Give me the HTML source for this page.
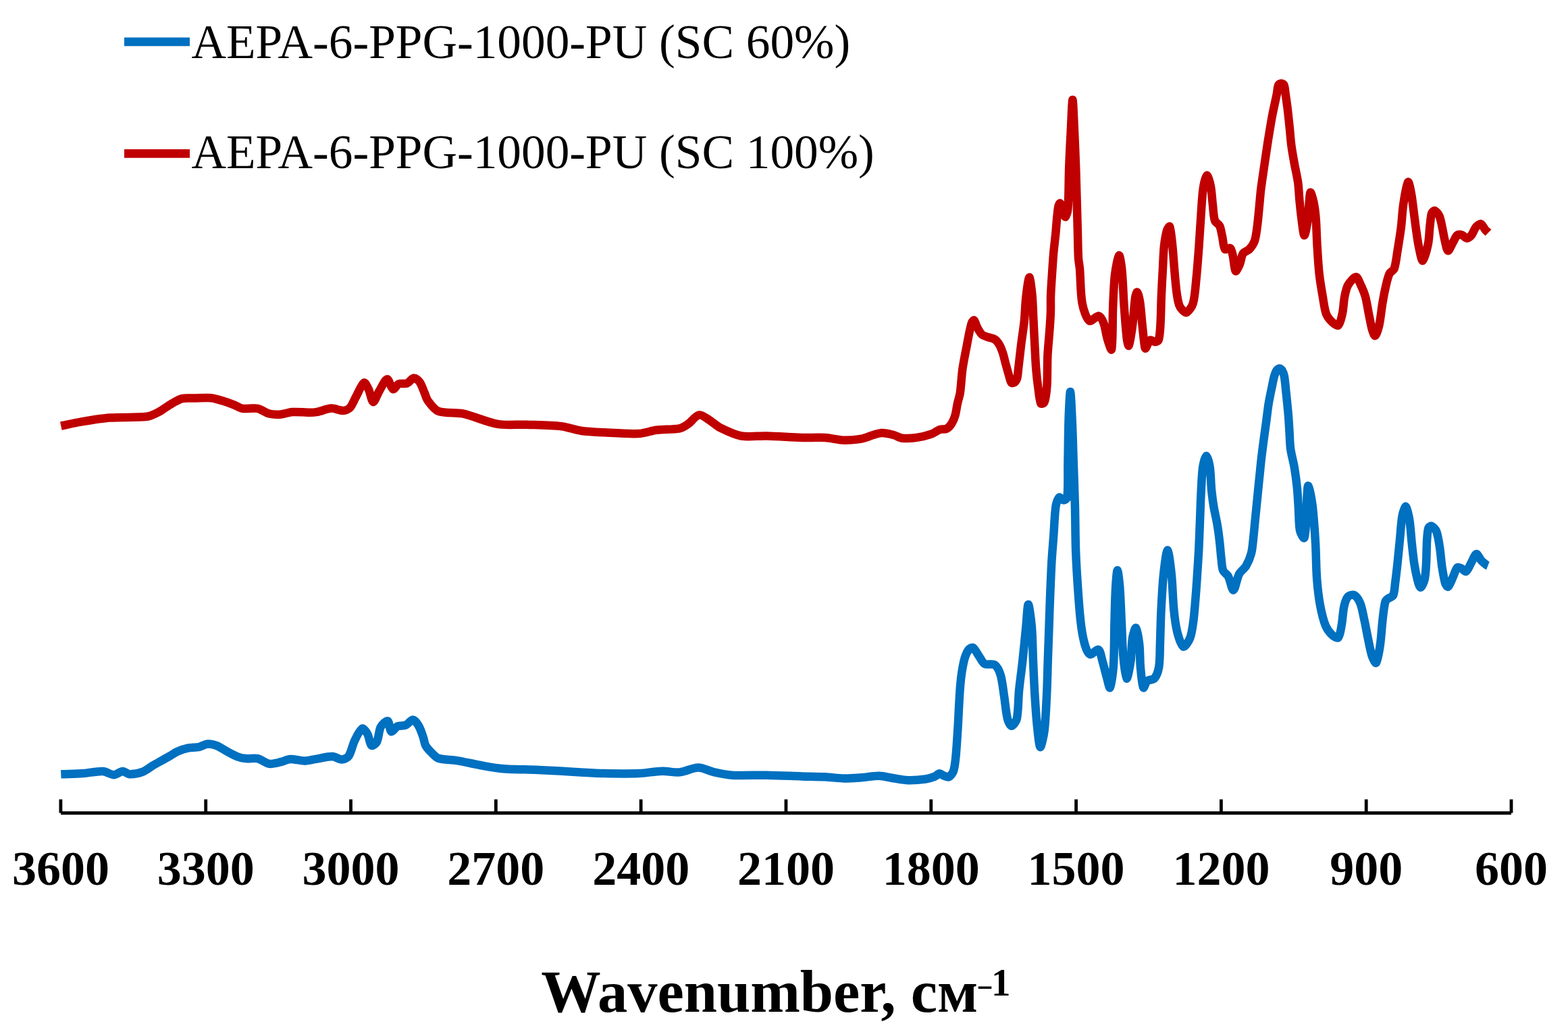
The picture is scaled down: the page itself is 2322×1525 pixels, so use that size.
<!DOCTYPE html>
<html><head><meta charset="utf-8"><style>
html,body{margin:0;padding:0;background:#fff;}
body{width:2322px;height:1525px;overflow:hidden;}
svg{display:block;}
text{font-family:"Liberation Serif","Times New Roman",serif;fill:#000;}
</style></head><body>
<svg width="2322" height="1525" viewBox="0 0 2322 1525">
<rect width="2322" height="1525" fill="#fff"/>
<g fill="none" stroke-linejoin="round" stroke-linecap="butt" stroke-width="12.5">
<path stroke="#C00000" d="M90.3,630.6 C99.1,628.8 110.8,626.1 119.6,624.6 C132.5,622.5 149.7,619.6 162.7,618.6 C179.2,617.3 201.6,618.7 217.8,616.8 C223.2,616.2 230.1,612.6 235.0,610.0 C240.5,607.2 247.0,601.9 252.3,598.8 C257.3,595.9 264.0,591.6 269.5,590.1 C274.4,588.8 281.5,589.7 286.7,589.6 C294.5,589.5 304.9,588.6 312.6,589.3 C317.9,589.8 324.7,592.1 329.8,593.6 C335.0,595.2 341.9,597.6 347.0,599.6 C350.7,601.0 355.2,604.2 359.0,604.8 C365.5,605.8 375.0,603.5 381.5,604.8 C386.9,605.9 393.3,611.2 398.7,612.5 C403.7,613.7 410.9,613.8 416.0,613.4 C421.1,613.0 427.8,610.3 433.0,610.0 C440.7,609.5 451.2,610.8 459.0,610.8 C462.3,610.8 466.8,610.4 470.0,609.8 C476.3,608.6 484.5,604.9 490.7,604.6 C495.8,604.4 502.9,608.2 507.9,608.0 C511.1,607.9 516.0,606.0 518.2,603.7 C521.7,600.1 524.2,592.8 526.8,588.2 C530.4,581.7 535.1,569.1 539.0,566.7 C540.8,565.5 544.3,573.1 545.8,576.2 C548.4,581.6 550.2,594.6 552.7,595.1 C554.9,595.6 558.5,584.1 561.3,579.6 C564.7,574.0 569.9,562.1 573.4,561.5 C576.1,561.1 578.9,575.0 582.0,576.2 C584.1,577.0 587.6,569.7 590.6,568.4 C593.7,567.1 599.4,568.8 602.6,567.6 C606.1,566.3 609.8,560.1 613.0,559.8 C615.5,559.6 619.8,563.3 621.6,565.8 C624.5,569.8 626.5,576.6 628.5,581.3 C630.1,584.9 631.4,590.3 633.7,593.4 C637.6,598.6 643.4,606.8 649.2,608.9 C658.8,612.5 674.7,610.1 685.3,612.4 C701.1,615.8 721.2,625.2 737.0,627.9 C749.6,630.1 767.1,628.2 780.0,628.7 C795.5,629.3 816.4,629.6 831.8,631.3 C840.4,632.3 851.4,636.5 860.0,637.7 C870.2,639.2 884.1,639.8 894.5,640.3 C910.0,641.1 930.7,642.7 946.1,642.0 C954.0,641.6 964.2,637.8 972.0,636.8 C982.2,635.5 996.4,636.2 1006.4,634.3 C1010.3,633.6 1015.2,630.5 1018.5,628.2 C1023.7,624.6 1029.6,615.7 1034.9,614.5 C1038.9,613.6 1045.4,618.8 1049.5,621.3 C1054.9,624.5 1061.1,630.6 1066.7,633.4 C1075.6,637.8 1088.0,643.8 1097.7,645.5 C1108.7,647.4 1124.2,645.2 1135.6,645.5 C1151.1,645.9 1171.8,647.5 1187.3,648.0 C1197.6,648.3 1211.5,647.4 1221.8,648.0 C1230.3,648.5 1241.5,651.4 1250.0,651.7 C1257.7,651.9 1268.2,651.0 1275.8,649.6 C1281.1,648.6 1287.9,645.5 1293.1,644.0 C1296.9,642.9 1302.1,641.0 1306.0,641.0 C1311.1,641.0 1318.1,642.7 1323.2,644.0 C1327.2,645.0 1332.1,648.2 1336.1,648.7 C1342.4,649.4 1351.3,648.8 1357.7,647.9 C1364.2,647.0 1373.0,644.9 1379.2,642.7 C1383.3,641.3 1388.0,637.2 1392.1,635.8 C1394.8,634.9 1399.2,636.1 1401.6,634.9 C1404.4,633.5 1407.6,629.9 1409.3,627.2 C1411.4,623.9 1413.4,618.8 1414.5,615.0 C1416.0,609.7 1416.8,602.4 1418.0,597.0 C1419.0,592.4 1421.1,586.3 1421.8,581.6 C1423.3,571.1 1423.9,556.8 1425.4,546.2 C1426.9,535.5 1429.9,521.4 1431.9,510.8 C1433.2,503.7 1435.0,494.2 1436.6,487.2 C1437.3,484.1 1438.2,479.8 1439.5,477.0 C1440.0,475.9 1441.9,473.6 1442.5,474.2 C1444.2,475.9 1445.5,481.8 1447.2,484.8 C1449.1,488.2 1451.6,493.0 1454.3,495.5 C1456.2,497.2 1460.0,498.1 1462.5,499.0 C1465.7,500.2 1470.5,500.7 1473.2,502.5 C1475.8,504.2 1478.6,508.0 1480.2,510.8 C1482.1,514.1 1483.8,519.0 1485.0,522.6 C1486.7,527.8 1488.2,535.0 1489.7,540.3 C1491.1,545.3 1492.9,551.9 1494.4,556.8 C1495.3,559.8 1496.2,564.9 1497.9,566.8 C1498.6,567.6 1501.5,566.8 1502.5,566.0 C1504.0,564.8 1505.6,562.0 1506.2,560.0 C1507.3,556.1 1507.5,550.3 1508.0,546.2 C1509.3,535.6 1510.8,521.4 1512.1,510.8 C1513.4,500.2 1515.7,486.1 1516.8,475.4 C1517.9,464.8 1518.2,450.6 1519.4,440.0 C1520.4,431.2 1522.9,411.2 1524.3,410.7 C1525.6,410.3 1527.7,429.1 1528.5,437.0 C1529.6,448.5 1529.9,463.9 1530.5,475.4 C1531.0,486.0 1531.7,500.2 1532.3,510.8 C1532.9,521.4 1533.4,535.6 1534.3,546.2 C1535.0,554.9 1536.3,566.4 1537.5,575.0 C1538.4,581.6 1539.2,591.5 1541.2,597.0 C1541.6,598.1 1544.8,597.8 1545.5,597.0 C1546.9,595.4 1547.8,591.5 1548.3,589.0 C1549.3,583.4 1550.2,575.7 1550.5,570.0 C1551.1,557.4 1550.9,540.6 1551.3,528.0 C1551.5,522.8 1552.1,516.0 1552.5,510.8 C1553.0,504.3 1553.8,495.5 1554.3,489.0 C1554.9,481.1 1555.6,470.7 1555.9,462.8 C1556.2,455.1 1555.8,444.7 1556.1,437.0 C1556.5,426.6 1557.5,412.6 1558.2,402.2 C1558.8,393.5 1559.5,382.0 1560.3,373.3 C1561.1,364.6 1562.6,353.1 1563.4,344.4 C1564.1,337.1 1564.7,327.3 1565.5,320.0 C1566.0,315.5 1566.5,309.3 1567.5,305.0 C1567.8,303.6 1569.3,300.6 1570.0,301.0 C1571.3,301.8 1573.1,306.5 1574.0,309.0 C1575.3,312.5 1576.3,320.5 1577.5,321.0 C1578.4,321.4 1580.6,314.8 1581.0,312.0 C1582.0,305.5 1582.1,296.6 1582.3,290.0 C1582.7,277.4 1582.7,260.7 1583.2,248.1 C1583.8,230.4 1585.1,206.7 1586.0,189.0 C1586.6,176.6 1587.7,147.7 1588.4,147.7 C1589.1,147.7 1590.2,176.6 1590.8,189.0 C1591.6,206.7 1592.6,230.4 1593.2,248.1 C1594.1,276.6 1595.1,314.5 1595.9,343.0 C1596.2,354.8 1596.3,370.5 1597.0,382.3 C1597.3,387.0 1598.6,393.3 1599.0,398.0 C1600.3,413.2 1599.9,434.0 1602.6,448.9 C1604.1,457.1 1608.4,471.3 1613.2,474.9 C1615.9,476.9 1623.9,467.2 1627.4,467.8 C1630.3,468.3 1633.1,475.1 1634.4,478.7 C1636.9,485.4 1637.9,495.2 1640.0,502.1 C1641.4,506.8 1645.6,520.3 1646.1,517.3 C1648.1,505.8 1647.4,472.9 1648.2,453.9 C1648.8,439.8 1649.4,421.0 1651.0,407.1 C1652.0,398.3 1655.3,379.7 1657.1,378.2 C1658.4,377.2 1660.7,392.5 1661.3,398.8 C1663.0,415.2 1663.5,437.4 1664.7,453.9 C1665.8,468.4 1667.1,487.7 1668.8,502.1 C1669.2,505.1 1671.0,513.3 1671.6,511.8 C1673.5,507.1 1675.9,490.6 1677.1,481.5 C1678.8,469.2 1679.5,452.5 1681.2,440.2 C1681.5,437.8 1683.3,431.9 1684.0,432.6 C1685.3,433.9 1687.4,442.6 1688.1,447.0 C1689.7,457.2 1690.5,471.2 1691.6,481.5 C1692.6,490.6 1693.7,502.8 1695.0,511.8 C1695.2,513.1 1695.8,516.5 1696.4,515.9 C1698.3,514.0 1700.6,505.4 1703.3,503.5 C1704.7,502.5 1708.2,506.2 1710.2,506.2 C1711.9,506.2 1715.2,505.1 1715.7,503.5 C1717.6,497.7 1718.0,488.1 1718.4,481.5 C1719.2,469.1 1719.3,452.6 1719.8,440.2 C1720.3,427.8 1721.2,411.2 1721.9,398.8 C1722.5,388.5 1722.8,374.7 1723.9,364.4 C1724.7,357.3 1726.2,347.7 1728.1,341.0 C1728.7,339.1 1731.7,334.2 1732.2,335.5 C1734.2,341.2 1735.4,355.7 1736.3,364.4 C1737.4,374.7 1738.2,388.5 1739.1,398.8 C1740.0,409.2 1741.1,423.0 1742.5,433.3 C1743.3,439.0 1744.5,446.7 1746.3,452.0 C1747.1,454.4 1749.2,457.3 1751.0,459.0 C1752.5,460.5 1755.8,463.5 1757.3,462.6 C1760.6,460.6 1765.4,453.9 1766.7,449.3 C1769.6,439.0 1770.4,424.0 1771.5,413.1 C1773.0,399.0 1774.3,380.1 1775.4,365.9 C1776.4,351.7 1777.5,332.9 1778.5,318.7 C1779.4,306.9 1780.0,291.0 1781.7,279.3 C1782.6,273.3 1785.3,260.5 1787.2,259.7 C1788.6,259.1 1791.8,270.0 1792.7,274.6 C1794.4,282.9 1794.9,294.4 1795.9,302.9 C1796.8,310.0 1796.9,320.0 1799.0,326.5 C1799.9,329.4 1804.8,331.6 1806.1,334.4 C1808.1,338.7 1808.9,345.4 1810.0,350.1 C1811.3,355.7 1811.5,365.3 1814.0,369.0 C1815.0,370.5 1820.4,366.2 1821.8,367.4 C1823.9,369.1 1824.9,375.1 1825.7,378.5 C1827.3,385.2 1827.7,398.8 1829.7,401.3 C1830.8,402.6 1834.6,394.3 1836.0,391.0 C1837.9,386.5 1838.2,379.2 1840.7,375.3 C1842.4,372.6 1847.9,371.5 1850.1,369.0 C1853.0,365.8 1856.6,360.5 1858.0,356.4 C1860.1,350.2 1861.0,341.0 1861.9,334.4 C1863.1,325.0 1864.2,312.4 1865.1,302.9 C1865.8,295.8 1866.5,286.4 1867.4,279.3 C1868.6,269.9 1870.5,257.3 1871.9,247.9 C1873.6,236.5 1875.7,221.4 1877.5,210.0 C1879.4,198.2 1881.9,182.5 1884.1,170.8 C1885.9,161.3 1888.9,148.8 1890.8,139.3 C1891.6,135.3 1891.7,129.5 1893.2,126.0 C1893.7,124.7 1896.1,123.4 1897.4,123.4 C1898.6,123.4 1901.0,124.7 1901.5,126.0 C1902.9,129.5 1903.1,135.3 1903.7,139.3 C1904.6,145.5 1905.8,153.8 1906.6,160.0 C1907.6,168.2 1908.7,179.2 1909.6,187.5 C1910.5,195.8 1911.2,206.9 1912.3,215.1 C1913.4,223.4 1915.4,234.4 1916.9,242.6 C1918.4,250.9 1921.0,261.9 1922.2,270.2 C1923.3,278.4 1923.7,289.5 1924.5,297.7 C1925.3,305.8 1926.4,316.6 1927.5,324.7 C1928.5,331.9 1930.2,348.6 1931.6,348.6 C1933.0,348.6 1935.8,332.0 1936.8,324.7 C1938.4,312.9 1938.5,290.6 1940.4,285.0 C1941.1,282.9 1944.4,294.7 1945.3,299.1 C1946.9,306.6 1948.1,317.0 1948.7,324.7 C1949.6,335.9 1949.8,351.0 1950.5,362.3 C1951.3,375.1 1952.2,392.2 1953.6,405.0 C1954.7,415.3 1957.0,428.9 1958.8,439.1 C1960.1,446.8 1961.3,457.5 1963.9,464.7 C1965.4,468.7 1969.3,473.6 1972.4,476.6 C1974.7,478.8 1980.1,483.1 1981.8,481.8 C1984.7,479.6 1986.6,470.0 1987.8,464.7 C1989.5,457.2 1989.7,446.7 1991.2,439.1 C1992.2,433.9 1993.7,426.5 1996.3,422.0 C1998.8,417.8 2005.1,410.1 2008.2,410.1 C2010.7,410.1 2013.3,418.3 2015.1,422.0 C2017.5,427.0 2020.4,433.8 2021.9,439.1 C2024.0,446.6 2025.4,457.0 2027.0,464.7 C2028.5,471.9 2030.1,481.6 2032.1,488.6 C2032.9,491.3 2035.3,497.8 2036.4,497.1 C2038.3,495.8 2041.2,486.6 2042.3,481.8 C2044.6,471.7 2045.7,457.8 2047.5,447.6 C2048.8,439.9 2050.8,429.6 2052.6,422.0 C2053.8,416.8 2055.4,409.6 2057.7,405.0 C2059.0,402.5 2063.6,400.8 2064.5,398.2 C2067.2,390.6 2068.2,379.1 2069.6,370.9 C2071.3,360.7 2073.5,347.1 2074.8,336.8 C2076.1,326.6 2076.6,312.8 2078.2,302.6 C2079.7,292.6 2082.9,272.4 2085.2,269.5 C2086.5,267.9 2089.1,282.0 2090.1,287.5 C2091.6,295.7 2092.7,306.8 2093.8,315.1 C2094.9,323.3 2096.2,334.4 2097.4,342.6 C2098.4,349.5 2099.6,358.8 2101.1,365.6 C2102.5,371.8 2105.0,386.6 2106.9,386.0 C2109.2,385.2 2113.3,368.7 2114.9,361.0 C2116.5,352.9 2116.6,341.7 2117.6,333.4 C2118.3,327.9 2118.7,320.1 2120.4,315.1 C2120.9,313.6 2123.8,311.4 2125.0,311.9 C2127.1,312.8 2130.3,317.0 2131.4,319.7 C2133.6,324.8 2134.8,332.5 2136.0,338.0 C2137.2,343.5 2138.3,350.9 2139.7,356.4 C2140.8,360.9 2142.4,370.7 2144.3,371.1 C2146.0,371.5 2149.4,362.7 2151.6,359.1 C2153.6,355.8 2155.4,350.2 2158.0,348.1 C2159.5,346.9 2163.4,347.4 2165.4,348.1 C2167.5,348.8 2169.8,352.7 2171.8,352.7 C2173.9,352.7 2177.5,350.0 2179.1,348.1 C2181.6,345.1 2183.1,339.2 2185.6,336.2 C2187.2,334.3 2191.0,331.1 2192.9,331.6 C2195.2,332.2 2197.3,337.5 2199.3,339.9 C2200.6,341.4 2202.6,343.1 2204.0,344.5"/>
<path stroke="#0070C0" d="M90.3,1146.3 C100.1,1145.9 113.3,1145.8 123.1,1145.1 C131.9,1144.5 143.7,1141.6 152.4,1142.0 C157.4,1142.2 163.9,1147.2 168.7,1147.2 C172.6,1147.2 177.7,1142.1 181.6,1142.0 C184.7,1141.9 188.8,1146.2 192.0,1146.3 C197.5,1146.5 205.6,1144.9 210.9,1142.9 C215.9,1141.0 221.7,1136.2 226.4,1133.4 C230.5,1131.0 236.1,1128.0 240.2,1125.7 C243.8,1123.6 248.7,1120.9 252.3,1118.8 C255.4,1117.0 259.3,1114.1 262.6,1112.7 C267.1,1110.8 273.3,1108.6 278.1,1107.6 C283.1,1106.5 290.3,1106.9 295.3,1105.8 C299.0,1105.0 303.7,1101.7 307.4,1101.5 C311.5,1101.2 317.3,1102.6 321.2,1104.1 C325.6,1105.8 330.8,1109.7 335.0,1111.9 C340.1,1114.6 346.9,1118.4 352.2,1120.5 C355.6,1121.8 360.6,1122.8 364.2,1123.1 C369.3,1123.6 376.5,1122.0 381.5,1123.1 C386.9,1124.3 393.3,1130.0 398.7,1130.8 C403.7,1131.5 410.8,1129.3 415.9,1128.2 C420.1,1127.3 425.5,1124.1 429.7,1123.9 C435.8,1123.6 444.2,1126.5 450.4,1126.5 C455.6,1126.5 462.4,1124.7 467.6,1123.9 C475.0,1122.8 485.1,1120.0 492.4,1120.1 C496.6,1120.2 502.2,1124.6 506.2,1124.4 C509.4,1124.3 514.7,1121.9 516.5,1119.2 C520.3,1113.6 521.9,1103.2 525.1,1096.8 C527.9,1091.1 532.5,1080.8 536.3,1078.8 C538.2,1077.7 542.5,1083.7 544.1,1086.5 C546.7,1091.2 547.4,1101.3 550.1,1103.7 C551.5,1104.9 556.7,1101.0 557.9,1098.6 C560.9,1092.7 560.8,1082.1 563.9,1076.2 C565.7,1072.8 572.1,1066.7 574.2,1067.6 C576.8,1068.7 576.9,1081.8 579.4,1083.1 C581.3,1084.1 585.7,1076.7 588.9,1075.3 C592.1,1073.9 597.7,1075.0 600.9,1073.6 C604.4,1072.1 608.4,1065.7 611.3,1065.8 C614.1,1065.9 618.1,1071.4 619.9,1074.5 C622.7,1079.2 625.0,1086.5 626.8,1091.7 C628.0,1095.2 628.5,1100.5 630.2,1103.7 C632.1,1107.2 635.9,1111.2 638.8,1114.1 C641.6,1117.0 645.5,1121.5 649.2,1122.7 C656.8,1125.1 668.5,1124.7 676.7,1126.1 C687.1,1127.8 700.8,1131.2 711.2,1133.0 C721.5,1134.8 735.2,1137.4 745.6,1138.2 C761.0,1139.4 781.8,1139.2 797.3,1139.9 C816.1,1140.8 841.2,1142.4 860.0,1143.4 C870.3,1144.0 884.1,1144.9 894.5,1145.1 C910.0,1145.4 930.6,1145.7 946.1,1145.1 C956.5,1144.7 970.2,1142.0 980.6,1141.7 C988.3,1141.5 998.8,1144.1 1006.4,1143.4 C1014.8,1142.6 1025.8,1136.5 1034.0,1136.5 C1041.3,1136.5 1050.8,1141.8 1058.1,1143.4 C1065.8,1145.1 1076.2,1147.3 1084.0,1147.7 C1099.4,1148.6 1120.1,1147.4 1135.6,1147.7 C1151.1,1148.0 1171.8,1148.9 1187.3,1149.4 C1197.6,1149.7 1211.5,1149.8 1221.8,1150.3 C1230.3,1150.7 1241.5,1152.4 1250.0,1152.6 C1257.7,1152.7 1268.1,1151.9 1275.8,1151.3 C1283.6,1150.7 1294.0,1148.6 1301.7,1148.7 C1308.2,1148.8 1316.7,1151.2 1323.2,1152.2 C1329.6,1153.2 1338.2,1155.0 1344.7,1155.2 C1352.4,1155.4 1362.9,1154.6 1370.6,1153.5 C1374.8,1152.9 1380.4,1151.2 1384.4,1149.6 C1386.6,1148.7 1389.2,1145.4 1391.3,1145.3 C1393.3,1145.2 1396.0,1147.9 1398.1,1148.7 C1400.1,1149.4 1403.4,1151.2 1405.0,1150.4 C1407.5,1149.1 1410.9,1144.8 1411.9,1141.8 C1414.0,1135.8 1414.7,1126.8 1415.4,1120.3 C1416.6,1108.3 1417.5,1092.1 1418.3,1080.0 C1419.6,1060.1 1420.4,1033.4 1422.2,1013.5 C1423.1,1003.2 1425.0,989.4 1427.3,979.4 C1428.5,974.1 1431.2,966.7 1434.1,962.3 C1435.3,960.5 1439.3,958.0 1440.9,958.9 C1443.9,960.6 1446.8,967.2 1449.4,970.8 C1452.0,974.4 1454.5,980.8 1458.0,982.8 C1461.7,984.9 1470.0,982.1 1473.3,984.5 C1477.1,987.2 1480.3,994.8 1481.8,999.8 C1484.4,1008.6 1485.5,1021.3 1487.0,1030.5 C1488.6,1040.7 1489.6,1054.7 1492.1,1064.6 C1492.9,1068.0 1496.0,1074.8 1498.0,1074.8 C1500.1,1074.8 1504.9,1068.2 1505.7,1064.6 C1508.3,1052.4 1507.8,1034.8 1509.1,1022.0 C1510.4,1009.2 1512.8,992.2 1514.2,979.4 C1515.9,964.1 1517.8,943.6 1519.4,928.2 C1520.4,918.2 1521.5,895.0 1522.8,895.0 C1524.1,895.0 1527.0,918.2 1527.9,928.2 C1529.2,943.5 1529.3,964.0 1530.0,979.4 C1530.7,994.7 1531.5,1015.2 1532.5,1030.5 C1533.3,1044.2 1534.6,1062.4 1536.0,1076.0 C1537.0,1085.0 1538.8,1105.1 1540.5,1106.0 C1541.9,1106.8 1545.7,1089.1 1546.6,1081.7 C1548.5,1066.5 1549.2,1045.9 1550.0,1030.5 C1550.8,1015.2 1551.2,994.7 1551.7,979.4 C1552.2,964.0 1553.0,943.6 1553.5,928.2 C1554.0,913.7 1554.6,894.5 1555.2,880.0 C1555.8,865.9 1556.5,847.0 1557.3,832.9 C1558.0,820.3 1559.5,803.5 1560.4,790.9 C1561.3,778.3 1561.7,761.3 1563.6,748.9 C1564.2,744.9 1566.6,737.9 1568.8,736.3 C1570.0,735.4 1573.3,740.5 1575.1,740.5 C1576.7,740.5 1580.2,738.2 1580.4,736.3 C1582.1,721.9 1581.1,701.1 1581.4,686.0 C1581.8,667.1 1581.9,641.9 1582.5,623.0 C1582.9,610.1 1584.2,580.0 1585.0,580.0 C1585.8,580.0 1587.1,610.1 1587.7,623.0 C1588.6,641.9 1589.2,667.1 1589.8,686.0 C1590.4,704.9 1591.4,730.0 1591.9,748.9 C1592.4,767.8 1592.4,793.0 1593.0,811.9 C1593.4,824.5 1594.3,841.3 1595.1,853.9 C1596.4,873.6 1598.0,899.8 1600.2,919.4 C1601.3,929.7 1603.5,943.6 1606.2,953.5 C1607.6,958.4 1610.6,967.4 1613.9,968.8 C1616.7,970.0 1624.2,960.6 1626.7,962.0 C1629.8,963.7 1631.1,973.8 1632.6,979.0 C1634.9,986.6 1637.2,997.0 1639.4,1004.6 C1640.6,1008.7 1642.8,1019.8 1643.7,1018.2 C1645.6,1014.7 1648.2,996.9 1648.8,987.6 C1650.2,967.2 1649.9,939.9 1650.5,919.4 C1650.9,904.0 1651.3,883.5 1652.2,868.2 C1652.6,861.0 1653.9,844.3 1654.8,844.3 C1655.7,844.3 1657.6,861.0 1658.2,868.2 C1659.4,883.5 1660.0,904.0 1660.8,919.4 C1661.6,934.7 1661.9,955.2 1663.3,970.5 C1664.2,980.8 1666.5,1003.2 1668.4,1004.6 C1669.8,1005.7 1673.3,986.8 1674.4,979.0 C1675.9,968.9 1675.4,955.0 1677.0,944.9 C1677.7,940.2 1680.9,928.6 1682.1,929.6 C1683.9,931.2 1686.3,946.2 1687.2,953.5 C1688.4,963.6 1688.0,977.4 1688.9,987.6 C1689.8,996.8 1691.0,1013.8 1693.2,1018.2 C1694.0,1019.9 1696.6,1010.1 1699.1,1008.0 C1701.4,1006.0 1707.5,1006.9 1709.4,1004.6 C1712.6,1000.8 1715.3,993.0 1716.2,987.6 C1717.9,977.6 1717.5,963.7 1717.9,953.5 C1718.5,938.1 1718.8,917.6 1719.6,902.3 C1720.4,887.0 1721.4,866.5 1723.0,851.2 C1724.2,840.1 1727.2,814.5 1729.0,814.5 C1730.8,814.5 1733.7,840.1 1734.9,851.2 C1736.5,866.5 1736.8,887.0 1738.3,902.3 C1739.3,912.6 1740.9,926.5 1743.5,936.4 C1745.2,943.0 1749.2,956.0 1752.5,957.5 C1754.8,958.5 1760.5,949.2 1762.2,944.9 C1765.0,937.8 1766.2,927.1 1767.3,919.4 C1768.7,909.1 1769.6,895.3 1770.5,885.0 C1771.3,875.5 1772.2,862.7 1772.8,853.2 C1773.6,840.4 1774.8,823.4 1775.4,810.6 C1776.0,797.8 1776.6,780.7 1777.1,767.9 C1777.6,755.1 1778.1,738.1 1778.8,725.3 C1779.4,715.1 1779.8,701.3 1781.3,691.2 C1782.1,686.2 1784.9,675.0 1786.4,675.0 C1787.9,675.0 1790.8,686.2 1791.6,691.2 C1793.1,701.3 1793.1,715.1 1794.1,725.3 C1794.9,733.0 1796.2,743.3 1797.5,750.9 C1798.8,758.6 1801.3,768.8 1802.6,776.5 C1803.9,784.1 1805.2,794.3 1806.1,802.0 C1807.0,809.7 1807.7,819.9 1808.6,827.6 C1809.2,832.8 1809.4,840.1 1811.2,844.7 C1812.4,847.8 1817.2,850.2 1818.8,853.2 C1821.8,858.9 1824.2,874.2 1826.5,873.7 C1829.1,873.2 1831.6,856.4 1835.1,849.8 C1837.3,845.7 1843.0,841.9 1845.3,837.9 C1848.3,832.7 1851.5,825.0 1853.0,819.1 C1854.9,811.6 1855.5,801.2 1856.4,793.5 C1857.3,785.8 1858.1,775.6 1858.9,767.9 C1859.9,757.7 1861.3,744.0 1862.3,733.8 C1863.1,726.1 1864.1,715.9 1864.9,708.2 C1866.0,697.9 1867.2,684.2 1868.5,674.0 C1870.4,658.5 1873.3,637.8 1875.4,622.3 C1876.4,614.7 1877.5,604.4 1878.8,596.8 C1880.1,589.1 1882.3,578.9 1883.9,571.2 C1884.8,566.9 1885.8,561.2 1887.0,557.0 C1887.8,554.4 1889.0,550.7 1890.5,548.5 C1891.3,547.2 1893.5,545.5 1894.8,545.5 C1896.0,545.5 1898.1,547.3 1898.8,548.5 C1900.2,550.7 1901.3,554.4 1901.8,557.0 C1903.0,563.7 1903.7,572.9 1904.4,579.7 C1905.5,589.9 1906.9,603.6 1907.8,613.8 C1908.5,621.5 1909.0,631.7 1909.5,639.4 C1910.0,647.1 1910.1,657.4 1911.2,665.0 C1912.3,673.0 1915.4,683.5 1916.7,691.5 C1918.3,700.9 1920.0,713.5 1920.9,723.0 C1921.8,732.4 1922.4,745.0 1923.0,754.4 C1923.6,763.8 1923.3,776.8 1925.1,785.9 C1925.8,789.4 1930.6,798.2 1931.4,796.4 C1933.5,791.9 1934.0,774.4 1934.6,765.0 C1935.2,755.6 1935.0,742.9 1935.6,733.5 C1935.9,729.2 1936.5,718.2 1937.3,719.3 C1938.7,721.3 1941.8,736.4 1943.0,743.9 C1944.5,753.3 1945.3,765.9 1946.1,775.4 C1946.9,784.8 1947.7,797.4 1948.2,806.9 C1949.0,822.1 1949.0,842.4 1950.2,857.5 C1951.1,869.4 1952.9,885.2 1955.1,896.9 C1956.8,905.9 1959.6,918.0 1963.0,926.4 C1964.9,931.0 1969.2,936.8 1972.8,940.2 C1974.8,942.1 1980.3,945.5 1981.7,944.1 C1984.4,941.4 1985.6,931.8 1986.6,926.4 C1988.3,917.6 1988.6,905.5 1990.6,896.9 C1991.6,892.5 1993.7,886.1 1996.5,883.1 C1998.2,881.3 2003.3,880.0 2005.3,881.1 C2008.6,882.9 2012.5,888.9 2014.2,892.9 C2017.0,899.5 2018.5,909.4 2020.1,916.5 C2022.1,925.3 2024.1,937.2 2026.0,946.1 C2027.6,953.8 2029.4,964.3 2031.9,971.7 C2033.0,974.9 2036.7,982.9 2037.8,981.5 C2040.3,978.2 2042.5,963.7 2043.7,955.9 C2045.5,944.2 2046.2,928.3 2047.6,916.5 C2048.5,908.8 2049.5,898.3 2051.4,891.0 C2051.8,889.3 2053.9,887.5 2055.3,886.4 C2057.4,884.7 2061.9,883.9 2063.0,881.6 C2065.1,877.1 2065.3,869.2 2066.0,863.9 C2067.2,855.1 2068.5,843.3 2069.5,834.4 C2070.6,823.8 2071.9,809.6 2073.0,799.0 C2074.1,788.4 2074.7,774.0 2076.6,763.6 C2077.4,759.3 2080.6,749.3 2081.9,750.0 C2083.7,751.0 2086.2,763.5 2087.2,769.5 C2088.9,780.0 2089.6,794.3 2090.8,804.9 C2091.8,813.8 2092.9,825.6 2094.3,834.4 C2095.4,841.5 2097.2,851.0 2099.0,858.0 C2100.0,861.7 2102.1,869.8 2103.7,869.8 C2105.3,869.8 2108.7,861.8 2109.6,858.0 C2111.2,851.2 2111.6,841.5 2112.0,834.4 C2112.6,823.8 2112.5,809.6 2113.2,799.0 C2113.6,793.7 2113.9,785.9 2115.5,781.3 C2116.0,779.9 2119.1,778.4 2120.3,779.0 C2122.7,780.2 2126.2,784.2 2127.3,787.2 C2129.7,793.8 2131.0,803.7 2132.1,810.8 C2133.5,819.6 2134.2,831.5 2135.6,840.3 C2136.7,847.4 2138.2,857.2 2140.3,863.9 C2140.9,865.7 2143.5,869.6 2144.5,868.7 C2147.1,866.4 2149.9,858.0 2152.1,853.3 C2153.9,849.4 2155.5,842.8 2158.0,840.3 C2159.1,839.2 2162.3,840.8 2163.9,841.5 C2166.2,842.5 2169.4,847.0 2171.0,846.2 C2173.6,844.9 2176.0,838.0 2178.1,834.4 C2180.6,830.2 2183.7,821.1 2186.4,820.3 C2188.3,819.7 2191.0,827.1 2193.4,829.7 C2195.6,832.1 2199.1,834.8 2201.7,836.8 C2202.1,837.1 2203.0,837.2 2203.5,837.4"/>
</g>
<line x1="184" y1="61.8" x2="281" y2="61.8" stroke="#0070C0" stroke-width="12.8"/>
<line x1="184" y1="227.4" x2="281" y2="227.4" stroke="#C00000" stroke-width="12.8"/>
<text x="283.4" y="85.9" font-size="71.3">AEPA-6-PPG-1000-PU (SC 60%)</text>
<text x="283.4" y="248.5" font-size="71.3">AEPA-6-PPG-1000-PU (SC 100%)</text>
<line x1="90" y1="1203.8" x2="2238" y2="1203.8" stroke="#000" stroke-width="5"/>
<line x1="89.90" y1="1183.5" x2="89.90" y2="1203.6" stroke="#000" stroke-width="4.8"/><line x1="304.71" y1="1183.5" x2="304.71" y2="1203.6" stroke="#000" stroke-width="4.8"/><line x1="519.52" y1="1183.5" x2="519.52" y2="1203.6" stroke="#000" stroke-width="4.8"/><line x1="734.33" y1="1183.5" x2="734.33" y2="1203.6" stroke="#000" stroke-width="4.8"/><line x1="949.14" y1="1183.5" x2="949.14" y2="1203.6" stroke="#000" stroke-width="4.8"/><line x1="1163.95" y1="1183.5" x2="1163.95" y2="1203.6" stroke="#000" stroke-width="4.8"/><line x1="1378.76" y1="1183.5" x2="1378.76" y2="1203.6" stroke="#000" stroke-width="4.8"/><line x1="1593.57" y1="1183.5" x2="1593.57" y2="1203.6" stroke="#000" stroke-width="4.8"/><line x1="1808.38" y1="1183.5" x2="1808.38" y2="1203.6" stroke="#000" stroke-width="4.8"/><line x1="2023.19" y1="1183.5" x2="2023.19" y2="1203.6" stroke="#000" stroke-width="4.8"/><line x1="2238.00" y1="1183.5" x2="2238.00" y2="1203.6" stroke="#000" stroke-width="4.8"/>
<g font-size="72" font-weight="bold"><text x="89.90" y="1309.8" text-anchor="middle">3600</text><text x="304.71" y="1309.8" text-anchor="middle">3300</text><text x="519.52" y="1309.8" text-anchor="middle">3000</text><text x="734.33" y="1309.8" text-anchor="middle">2700</text><text x="949.14" y="1309.8" text-anchor="middle">2400</text><text x="1163.95" y="1309.8" text-anchor="middle">2100</text><text x="1378.76" y="1309.8" text-anchor="middle">1800</text><text x="1593.57" y="1309.8" text-anchor="middle">1500</text><text x="1808.38" y="1309.8" text-anchor="middle">1200</text><text x="2023.19" y="1309.8" text-anchor="middle">900</text><text x="2238.00" y="1309.8" text-anchor="middle">600</text></g>
<text x="801.3" y="1498.3" font-size="88.5" font-weight="bold">Wavenumber, см<tspan x="1446" y="1473" font-size="46" font-weight="normal" textLength="25" lengthAdjust="spacingAndGlyphs">-</tspan><tspan x="1468" y="1474" font-size="57">1</tspan></text>
</svg>
</body></html>
